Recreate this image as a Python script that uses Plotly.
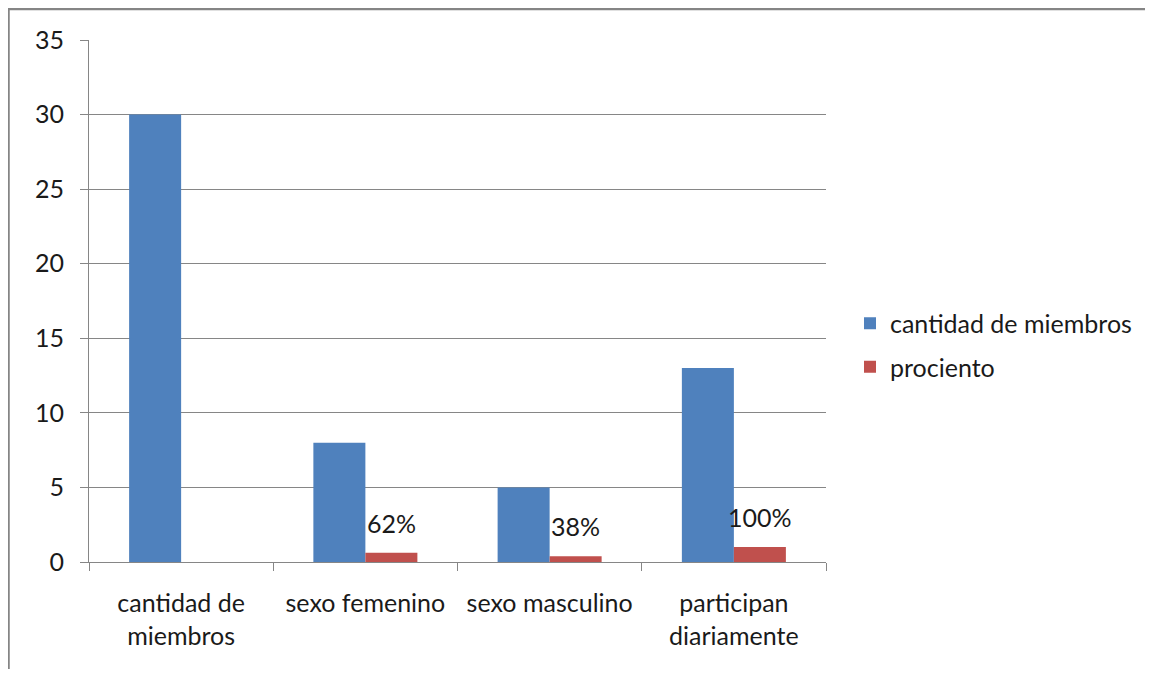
import plotly.graph_objects as go

categories = ["cantidad de<br>miembros", "sexo femenino", "sexo masculino", "participan<br>diariamente"]
miembros = [30, 8, 5, 13]
porciento = [None, 0.62, 0.38, 1.0]
porciento_labels = ["", "62%", "38%", "100%"]
y_ticks = [0, 5, 10, 15, 20, 25, 30, 35]

BLUE = "#4F81BD"
RED = "#C0504D"
FONT = "Lato"
TXT = "#1a1a1a"
FS = 25

fig = go.Figure()
fig.add_trace(go.Bar(x=categories, y=miembros, name="cantidad de miembros",
                     marker=dict(color=BLUE, line=dict(width=0)), legendgroup="a"))
fig.add_trace(go.Bar(x=categories, y=porciento, name="prociento",
                     marker=dict(color=RED, line=dict(width=0)), legendgroup="b"))

for c, v, t in zip(categories, porciento, porciento_labels):
    if v is None or not t:
        continue
    fig.add_annotation(x=c, y=v, xref="x", yref="y", text=t, showarrow=False,
                       xshift=26, yshift=30, yanchor="middle",
                       font=dict(family=FONT, size=FS, color=TXT))

# page has an 8px body margin; keep the figure inside the window (no scrollbars)
OFF = 8
W, H = 1153 - 2 * OFF, 677 - 2 * OFF
L, T = 89 - OFF, 40 - OFF
pw, ph = 737, 522
R, B = W - L - pw, H - T - ph

def px(x):
    return (x - OFF - L) / pw
def py(y):
    return (H - B - (y - OFF)) / ph

# outer chart border: only the left and top edges are visible in the reference
border = dict(color="#858585", width=2.5)
fig.add_shape(type="line", xref="paper", yref="paper",
              x0=px(8.5), x1=px(8.5), y0=py(720), y1=py(8), line=border, layer="below")
fig.add_shape(type="line", xref="paper", yref="paper",
              x0=px(7.5), x1=px(1200), y0=py(9), y1=py(9), line=border, layer="below")

fig.update_layout(
    width=W, height=H,
    margin=dict(l=L, r=R, t=T, b=B, autoexpand=False),
    paper_bgcolor="white", plot_bgcolor="white",
    barmode="group", bargap=0.4355, bargroupgap=0,
    font=dict(family=FONT, size=FS, color=TXT),
    showlegend=True,
    legend=dict(xref="container", yref="container",
                x=(850 - OFF) / W, xanchor="left",
                y=1 - (345 - OFF) / H, yanchor="middle",
                font=dict(family=FONT, size=FS, color=TXT),
                tracegroupgap=8, bgcolor="rgba(0,0,0,0)"),
    xaxis=dict(showline=True, linecolor="#868686", linewidth=1,
               ticks="outside", tickson="boundaries", ticklen=8, tickcolor="#868686",
               showgrid=False, tickfont=dict(family=FONT, size=FS, color=TXT),
               ticklabelstandoff=19),
    yaxis=dict(range=[0, 35], tickvals=y_ticks, showgrid=True, gridcolor="#868686", gridwidth=1,
               showline=True, linecolor="#868686", linewidth=1, zeroline=False,
               ticks="outside", ticklen=8, tickcolor="#868686",
               tickfont=dict(family=FONT, size=FS, color=TXT), ticklabelstandoff=11),
)

fig.write_html("out.html")
